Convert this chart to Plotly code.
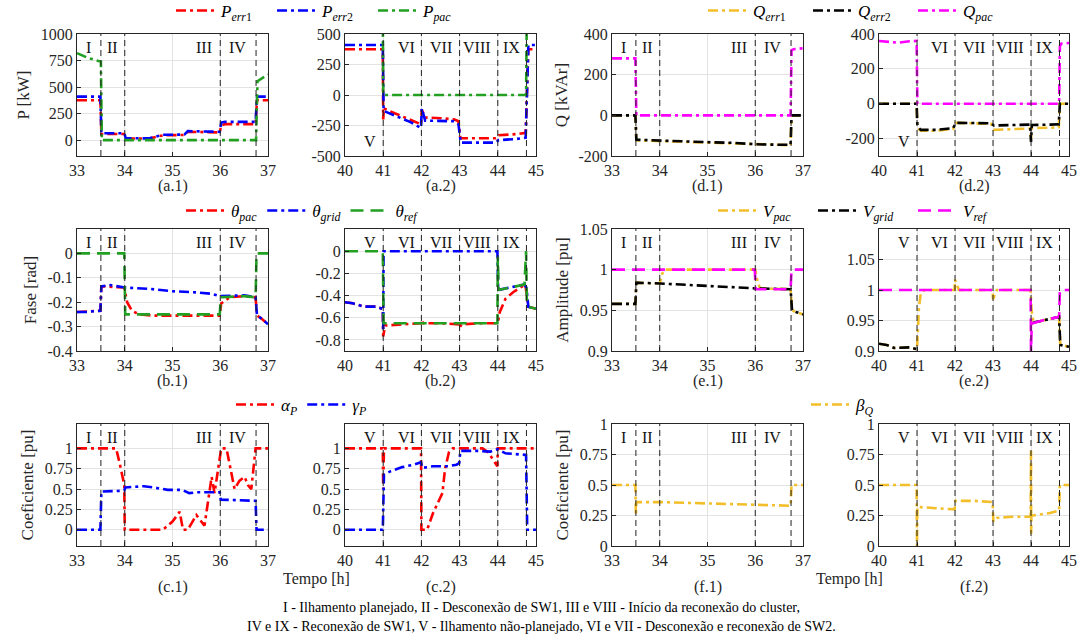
import plotly.graph_objects as go

W, H = 1083, 639
FONT = "Liberation Serif"

# ---------------- DATA ----------------
# (a.1) Active power, 33-37 h
t_a1_err1 = [33, 33.49, 33.51, 33.99, 34.02, 34.5, 34.8, 35.25, 35.32, 35.99, 36.02, 36.1, 36.74, 36.77, 37]
p_a1_err1 = [375, 375, 58, 58, 15, 14, 45, 48, 78, 72, 140, 150, 150, 375, 375]
t_a1_err2 = [33, 33.49, 33.51, 33.99, 34.02, 34.5, 34.8, 35.25, 35.32, 35.99, 36.02, 36.1, 36.74, 36.77, 37]
p_a1_err2 = [410, 410, 65, 65, 18, 16, 50, 52, 85, 78, 165, 172, 172, 410, 410]
t_a1_pac = [33, 33.2, 33.45, 33.5, 33.52, 36.75, 36.78, 36.9, 37]
p_a1_pac = [820, 780, 745, 740, 0, 0, 555, 590, 618]

# (a.2) Active power, 40-45 h
t_a2_err1 = [40, 40.99, 41.0, 41.02, 41.3, 41.7, 41.99, 42.01, 42.1, 42.5, 42.85, 42.97, 43.02, 43.95, 44.02, 44.5, 44.73, 44.8, 45]
p_a2_err1 = [375, 375, -200, -110, -150, -200, -240, -120, -185, -190, -200, -215, -355, -355, -330, -320, -310, 375, 375]
t_a2_err2 = [40, 40.99, 41.01, 41.3, 41.7, 41.99, 42.01, 42.1, 42.5, 42.85, 42.97, 43.03, 43.95, 44.02, 44.5, 44.73, 44.8, 45]
p_a2_err2 = [410, 410, -130, -170, -220, -270, -110, -210, -215, -215, -240, -390, -390, -370, -360, -350, 410, 410]
t_a2_pac = [40, 40.99, 41.0, 44.74, 44.76, 45]
p_a2_pac = [650, 650, 0, 0, 650, 650]

# (d.1) Reactive power, 33-37 h
t_d1_err1 = [33, 33.49, 33.51, 34, 35, 35.5, 36, 36.5, 36.74, 36.76, 37]
q_d1_err1 = [0, 0, -123, -127, -134, -137, -144, -147, -147, 0, 0]
t_d1_err2 = [33, 33.49, 33.51, 34, 35, 35.5, 36, 36.5, 36.74, 36.76, 37]
q_d1_err2 = [0, 0, -120, -125, -132, -135, -142, -145, -145, 0, 0]
t_d1_pac = [33, 33.49, 33.51, 36.74, 36.76, 36.8, 37]
q_d1_pac = [280, 280, 0, 0, 320, 325, 330]

# (d.2) Reactive power, 40-45 h
t_d2_err = [40, 40.99, 41.01, 41.1, 41.5, 41.95, 42.02, 42.5, 42.95, 43.02, 43.5, 43.98, 44.0, 44.02, 44.5, 44.73, 44.76, 45]
q_d2_err1 = [0, 0, -140, -155, -155, -145, -110, -112, -115, -150, -145, -142, -200, -140, -138, -135, 0, 0]
q_d2_err2 = [0, 0, -130, -150, -150, -140, -110, -112, -112, -125, -122, -120, -220, -122, -120, -118, 0, 0]
t_d2_pac = [40, 40.3, 40.5, 40.8, 40.99, 41.01, 44.74, 44.76, 44.8, 45]
q_d2_pac = [360, 355, 350, 358, 360, 0, 0, 330, 345, 348]

# (b.1) Phase, 33-37 h
t_b1_pac = [33, 33.49, 33.51, 33.99, 34.05, 34.15, 34.3, 34.6, 35, 35.5, 35.99, 36.02, 36.2, 36.5, 36.74, 36.77, 36.85, 37]
th_b1_pac = [-0.24, -0.235, -0.135, -0.14, -0.2, -0.235, -0.25, -0.255, -0.255, -0.255, -0.255, -0.205, -0.18, -0.175, -0.18, -0.255, -0.265, -0.29]
t_b1_grid = [33, 33.2, 33.49, 33.51, 33.7, 34, 34.5, 35, 35.5, 35.8, 36, 36.5, 36.74, 36.77, 36.85, 37]
th_b1_grid = [-0.24, -0.24, -0.235, -0.135, -0.13, -0.14, -0.145, -0.155, -0.16, -0.165, -0.175, -0.172, -0.18, -0.255, -0.265, -0.29]
t_b1_ref = [33, 33.99, 34.01, 35.99, 36.01, 36.5, 36.74, 36.76, 37]
th_b1_ref = [0, 0, -0.25, -0.25, -0.18, -0.175, -0.18, 0, 0]

# (b.2) Phase, 40-45 h
t_b2_pac = [40, 40.2, 40.5, 40.8, 40.99, 41.0, 41.05, 41.5, 41.99, 42.0, 42.05, 42.5, 42.99, 43.0, 43.05, 43.5, 44.0, 44.05, 44.2, 44.4, 44.6, 44.72, 44.8, 45]
th_b2_pac = [-0.46, -0.47, -0.5, -0.5, -0.52, -0.77, -0.67, -0.66, -0.65, -0.62, -0.65, -0.65, -0.66, -0.69, -0.66, -0.65, -0.65, -0.55, -0.43, -0.37, -0.33, -0.3, -0.5, -0.52]
t_b2_grid = [40, 40.2, 40.5, 40.8, 40.99, 41.0, 41.01, 43.99, 44.01, 44.3, 44.7, 44.75, 44.8, 45]
th_b2_grid = [-0.46, -0.47, -0.5, -0.5, -0.52, -0.72, 0, 0, -0.35, -0.33, -0.3, -0.33, -0.5, -0.52]
t_b2_ref = [40, 40.99, 41.01, 43.99, 44.0, 44.02, 44.3, 44.7, 44.74, 44.76, 44.8, 45]
th_b2_ref = [0, 0, -0.65, -0.65, -0.05, -0.35, -0.33, -0.3, 0, -0.45, -0.5, -0.52]

# (e.1) Amplitude, 33-37 h
t_e1_pac = [33, 33.49, 33.51, 34.0, 34.05, 34.1, 36.0, 36.05, 36.1, 36.74, 36.77, 36.85, 37]
v_e1_pac = [0.958, 0.958, 0.984, 0.983, 0.995, 1, 1, 0.985, 0.977, 0.976, 0.95, 0.948, 0.945]
t_e1_grid = [33, 33.49, 33.51, 34, 35, 36, 36.74, 36.77, 36.85, 37]
v_e1_grid = [0.958, 0.958, 0.984, 0.983, 0.98, 0.977, 0.976, 0.95, 0.948, 0.945]
t_e1_ref = [33, 35.99, 36.01, 36.74, 36.76, 37]
v_e1_ref = [1, 1, 0.976, 0.976, 1, 1]

# (e.2) Amplitude, 40-45 h
t_e2_pac = [40, 40.2, 40.4, 40.6, 40.8, 41.0, 41.05, 41.1, 41.2, 41.99, 42.0, 42.1, 42.99, 43.0, 43.1, 43.99, 44.01, 44.05, 44.1, 44.74, 44.77, 45]
v_e2_pac = [0.912, 0.91, 0.905, 0.906, 0.906, 0.903, 0.97, 0.995, 1.0, 1.0, 1.017, 1.0, 1.0, 0.985, 1.0, 1.0, 0.97, 0.952, 0.947, 0.956, 0.91, 0.907]
t_e2_grid = [40, 40.2, 40.4, 40.6, 40.8, 41.0, None, 44.01, 44.1, 44.74, 44.77, 45]
v_e2_grid = [0.912, 0.91, 0.905, 0.906, 0.906, 0.903, None, 0.945, 0.947, 0.956, 0.91, 0.907]
t_e2_ref = [40, 43.99, 44.0, 44.02, 44.3, 44.74, 44.76, 45]
v_e2_ref = [1, 1, 0.9, 0.945, 0.95, 0.956, 1, 1]

# (c.1) Coefficients, 33-37 h
t_c1_alpha = [33, 33.82, 33.9, 33.99, 34.0, 34.8, 35.0, 35.15, 35.22, 35.32, 35.5, 35.6, 35.67, 35.82, 35.88, 36.02, 36.13, 36.3, 36.4, 36.51, 36.58, 36.65, 36.74, 37]
a_c1_alpha = [1, 1, 0.8, 0.55, 0, 0, 0.1, 0.22, 0, 0, 0.18, 0.1, 0.05, 0.65, 0.45, 1, 1, 0.5, 0.6, 0.65, 0.55, 0.5, 1, 1]
t_c1_gamma = [33, 33.49, 33.51, 33.99, 34.01, 34.4, 34.6, 34.9, 35.2, 35.35, 35.5, 35.99, 36.01, 36.74, 36.76, 37]
g_c1_gamma = [0, 0, 0.47, 0.48, 0.52, 0.535, 0.52, 0.49, 0.49, 0.45, 0.46, 0.46, 0.37, 0.355, 0, 0]

# (c.2) Coefficients, 40-45 h
t_c2_alpha = [40, 40.99, 41.0, 41.02, 41.99, 42.0, 42.15, 42.3, 42.45, 42.55, 42.62, 42.72, 42.82, 43.6, 43.75, 43.95, 43.99, 44.0, 45]
a_c2_alpha = [1, 1, 0.5, 1, 1, 0, 0, 0.2, 0.35, 0.45, 0.75, 0.95, 1, 1, 0.95, 0.8, 0.78, 1, 1]
t_c2_gamma = [40, 40.99, 41.02, 41.2, 41.5, 41.8, 41.99, 42.02, 42.3, 42.7, 42.92, 42.99, 43.02, 43.5, 43.8, 44.0, 44.2, 44.6, 44.74, 44.77, 45]
g_c2_gamma = [0, 0, 0.68, 0.72, 0.77, 0.8, 0.83, 0.76, 0.78, 0.78, 0.8, 0.82, 0.97, 0.97, 0.96, 0.99, 0.94, 0.93, 0.92, 0, 0]

# (f.1) beta_Q, 33-37 h
t_f1_beta = [33, 33.49, 33.5, 33.51, 34, 35, 36, 36.5, 36.74, 36.76, 37]
b_f1_beta = [0.5, 0.5, 0.25, 0.36, 0.36, 0.35, 0.335, 0.33, 0.33, 0.5, 0.5]

# (f.2) beta_Q, 40-45 h
t_f2_beta = [40, 40.99, 41.0, 41.01, 41.5, 41.99, 42.01, 42.5, 42.99, 43.01, 43.1, 43.5, 43.99, 44.0, 44.005, 44.01, 44.05, 44.5, 44.74, 44.76, 45]
b_f2_beta = [0.5, 0.5, 0, 0.32, 0.31, 0.3, 0.37, 0.37, 0.36, 0.2, 0.23, 0.24, 0.24, 0.78, 0.1, 0.25, 0.25, 0.27, 0.29, 0.5, 0.5]

# events and region labels
events_left = [33.5, 34, 36, 36.75]
events_right = [41, 42, 43, 44, 44.75]
regions_left = ["I", "II", "III", "IV"]
regions_left_x = [33.25, 33.75, 35.65, 36.37]
regions_right = ["V", "VI", "VII", "VIII", "IX"]
regions_right_x = [40.65, 41.6, 42.5, 43.45, 44.35]

x_left_ticks = [33, 34, 35, 36, 37]
x_right_ticks = [40, 41, 42, 43, 44, 45]

y_ticks = {
    "a1": ([0, 250, 500, 750, 1000], ["0", "250", "500", "750", "1000"], [-150, 1000]),
    "a2": ([-500, -250, 0, 250, 500], ["-500", "-250", "0", "250", "500"], [-500, 500]),
    "d1": ([-200, 0, 200, 400], ["-200", "0", "200", "400"], [-200, 400]),
    "d2": ([-200, 0, 200, 400], ["-200", "0", "200", "400"], [-300, 400]),
    "b1": ([-0.4, -0.3, -0.2, -0.1, 0], ["-0.4", "-0.3", "-0.2", "-0.1", "0"], [-0.4, 0.1]),
    "b2": ([-0.8, -0.6, -0.4, -0.2, 0], ["-0.8", "-0.6", "-0.4", "-0.2", "0"], [-0.9, 0.2]),
    "e1": ([0.9, 0.95, 1, 1.05], ["0.9", "0.95", "1", "1.05"], [0.9, 1.05]),
    "e2": ([0.9, 0.95, 1, 1.05], ["0.9", "0.95", "1", "1.05"], [0.9, 1.1]),
    "c1": ([0, 0.25, 0.5, 0.75, 1], ["0", "0.25", "0.5", "0.75", "1"], [-0.2, 1.3]),
    "c2": ([0, 0.25, 0.5, 0.75, 1], ["0", "0.25", "0.5", "0.75", "1"], [-0.2, 1.3]),
    "f1": ([0, 0.25, 0.5, 0.75, 1], ["0", "0.25", "0.5", "0.75", "1"], [0, 1]),
    "f2": ([0, 0.25, 0.5, 0.75, 1], ["0", "0.25", "0.5", "0.75", "1"], [0, 1]),
}

panel_keys = [["a1", "a2", "d1", "d2"], ["b1", "b2", "e1", "e2"], ["c1", "c2", "f1", "f2"]]
panel_names = {"a1": "(a.1)", "a2": "(a.2)", "d1": "(d.1)", "d2": "(d.2)",
               "b1": "(b.1)", "b2": "(b.2)", "e1": "(e.1)", "e2": "(e.2)",
               "c1": "(c.1)", "c2": "(c.2)", "f1": "(f.1)", "f2": "(f.2)"}
y_titles = {"a1": "P [kW]", "d1": "Q [kVAr]", "b1": "Fase [rad]",
            "e1": "Amplitude [pu]", "c1": "Coeficiente [pu]", "f1": "Coeficiente [pu]"}

# ---------------- STYLE ----------------
RED, BLUE, GREEN = "#ff0000", "#0000ff", "#22a022"
YEL, BLK, MAG = "#f2bf2a", "#000000", "#ff00ff"
DASHDOT = "10px,4px,3px,4px"
REFDASH = "13px,7px"
LW = 2.6
AX = "#262626"
GRID = "#e3e3e3"

cols_px = [(77, 268), (345, 536), (612, 803), (879, 1069)]
rows_px = [(34, 156), (229, 351), (424, 546)]

fig = go.Figure()

series = [
    ("a1", t_a1_err1, p_a1_err1, "<i>P</i><sub><i>err</i>1</sub>", RED, DASHDOT, "legend", True),
    ("a1", t_a1_err2, p_a1_err2, "<i>P</i><sub><i>err</i>2</sub>", BLUE, DASHDOT, "legend", True),
    ("a1", t_a1_pac, p_a1_pac, "<i>P</i><sub><i>pac</i></sub>", GREEN, DASHDOT, "legend", True),
    ("a2", t_a2_err1, p_a2_err1, "Perr1", RED, DASHDOT, "legend", False),
    ("a2", t_a2_err2, p_a2_err2, "Perr2", BLUE, DASHDOT, "legend", False),
    ("a2", t_a2_pac, p_a2_pac, "Ppac", GREEN, DASHDOT, "legend", False),
    ("d1", t_d1_err1, q_d1_err1, "<i>Q</i><sub><i>err</i>1</sub>", YEL, DASHDOT, "legend2", True),
    ("d1", t_d1_err2, q_d1_err2, "<i>Q</i><sub><i>err</i>2</sub>", BLK, DASHDOT, "legend2", True),
    ("d1", t_d1_pac, q_d1_pac, "<i>Q</i><sub><i>pac</i></sub>", MAG, DASHDOT, "legend2", True),
    ("d2", t_d2_err, q_d2_err1, "Qerr1", YEL, DASHDOT, "legend2", False),
    ("d2", t_d2_err, q_d2_err2, "Qerr2", BLK, DASHDOT, "legend2", False),
    ("d2", t_d2_pac, q_d2_pac, "Qpac", MAG, DASHDOT, "legend2", False),
    ("b1", t_b1_pac, th_b1_pac, "<i>θ<sub>pac</sub></i>", RED, DASHDOT, "legend3", True),
    ("b1", t_b1_grid, th_b1_grid, "<i>θ<sub>grid</sub></i>", BLUE, DASHDOT, "legend3", True),
    ("b1", t_b1_ref, th_b1_ref, "<i>θ<sub>ref</sub></i>", GREEN, REFDASH, "legend3", True),
    ("b2", t_b2_pac, th_b2_pac, "thpac", RED, DASHDOT, "legend3", False),
    ("b2", t_b2_grid, th_b2_grid, "thgrid", BLUE, DASHDOT, "legend3", False),
    ("b2", t_b2_ref, th_b2_ref, "thref", GREEN, REFDASH, "legend3", False),
    ("e1", t_e1_pac, v_e1_pac, "<i>V<sub>pac</sub></i>", YEL, DASHDOT, "legend4", True),
    ("e1", t_e1_grid, v_e1_grid, "<i>V<sub>grid</sub></i>", BLK, DASHDOT, "legend4", True),
    ("e1", t_e1_ref, v_e1_ref, "<i>V<sub>ref</sub></i>", MAG, REFDASH, "legend4", True),
    ("e2", t_e2_pac, v_e2_pac, "Vpac", YEL, DASHDOT, "legend4", False),
    ("e2", t_e2_grid, v_e2_grid, "Vgrid", BLK, DASHDOT, "legend4", False),
    ("e2", t_e2_ref, v_e2_ref, "Vref", MAG, REFDASH, "legend4", False),
    ("c1", t_c1_alpha, a_c1_alpha, "<i>α<sub>P</sub></i>", RED, DASHDOT, "legend5", True),
    ("c1", t_c1_gamma, g_c1_gamma, "<i>γ<sub>P</sub></i>", BLUE, DASHDOT, "legend5", True),
    ("c2", t_c2_alpha, a_c2_alpha, "aP", RED, DASHDOT, "legend5", False),
    ("c2", t_c2_gamma, g_c2_gamma, "gP", BLUE, DASHDOT, "legend5", False),
    ("f1", t_f1_beta, b_f1_beta, "<i>β<sub>Q</sub></i>", YEL, DASHDOT, "legend6", True),
    ("f2", t_f2_beta, b_f2_beta, "bQ", YEL, DASHDOT, "legend6", False),
]

axis_index = {}
for r, row in enumerate(panel_keys):
    for c, key in enumerate(row):
        axis_index[key] = r * 4 + c + 1

for key, xs, ys, name, color, dash, leg, show in series:
    i = axis_index[key]
    fig.add_trace(go.Scatter(
        x=xs, y=ys, mode="lines", name=name, showlegend=show, legend=leg,
        line=dict(color=color, width=LW, dash=dash),
        xaxis="x" if i == 1 else f"x{i}", yaxis="y" if i == 1 else f"y{i}",
        connectgaps=False, hoverinfo="skip"))

layout = dict(
    width=W, height=H, margin=dict(l=0, r=0, t=0, b=0, autoexpand=False),
    paper_bgcolor="white", plot_bgcolor="white",
    font=dict(family=FONT, size=16, color="#000"),
    showlegend=True,
)

annotations = []
shapes = []
tickfont = dict(family=FONT, size=16, color=AX)

for r, row in enumerate(panel_keys):
    y0p, y1p = rows_px[r]
    for c, key in enumerate(row):
        i = axis_index[key]
        x0p, x1p = cols_px[c]
        left = (c % 2 == 0)
        xs = "" if i == 1 else str(i)
        tv, tt, yr = y_ticks[key]
        layout[f"xaxis{xs}"] = dict(
            domain=[x0p / W, x1p / W], anchor=f"y{xs}",
            range=[33, 37] if left else [40, 45],
            tickvals=x_left_ticks if left else x_right_ticks,
            ticktext=[str(v) for v in (x_left_ticks if left else x_right_ticks)],
            showgrid=True, gridcolor=GRID, gridwidth=1, zeroline=False,
            showline=True, linecolor=AX, linewidth=1, mirror=True,
            ticks="inside", ticklen=4, tickcolor=AX, tickfont=tickfont)
        layout[f"yaxis{xs}"] = dict(
            domain=[1 - y1p / H, 1 - y0p / H], anchor=f"x{xs}",
            range=yr, tickvals=tv, ticktext=tt,
            showgrid=True, gridcolor=GRID, gridwidth=1, zeroline=False,
            showline=True, linecolor=AX, linewidth=1, mirror=True,
            ticks="inside", ticklen=4, tickcolor=AX, tickfont=tickfont)
        if key in y_titles:
            layout[f"yaxis{xs}"]["title"] = dict(text=y_titles[key], font=dict(family=FONT, size=17, color=AX), standoff=6)
        evs = events_left if left else events_right
        for ev in evs:
            shapes.append(dict(type="line", xref=f"x{xs}", yref=f"y{xs} domain",
                               x0=ev, x1=ev, y0=0, y1=1,
                               line=dict(color="#222", width=1, dash="6px,4px"), layer="above"))
        labs = regions_left if left else regions_right
        labx = regions_left_x if left else regions_right_x
        for lab, lx in zip(labs, labx):
            yy = 0.89
            if lab == "V" and key in ("a2", "d2"):
                yy = 0.12
            annotations.append(dict(text=lab, x=lx, y=yy, xref=f"x{xs}", yref=f"y{xs} domain",
                                    showarrow=False, font=dict(family=FONT, size=16, color="#111"),
                                    xanchor="center", yanchor="middle"))
        label_y = {0: 186, 1: 381, 2: 587}[r]
        annotations.append(dict(text=panel_names[key], x=(x0p + x1p) / 2 / W, y=1 - label_y / H,
                                xref="paper", yref="paper", showarrow=False,
                                font=dict(family=FONT, size=16, color=AX),
                                xanchor="center", yanchor="middle"))

for tx in (316, 850):
    annotations.append(dict(text="Tempo [h]", x=tx / W, y=1 - 579 / H, xref="paper", yref="paper",
                            showarrow=False, font=dict(family=FONT, size=16, color=AX),
                            xanchor="center", yanchor="middle"))

caption1 = "I - Ilhamento planejado, II - Desconexão de SW1, III e VIII - Início da reconexão do cluster,"
caption2 = "IV e IX - Reconexão de SW1, V - Ilhamento não-planejado, VI e VII - Desconexão e reconexão de SW2."
annotations.append(dict(text=caption1, x=541 / W, y=1 - 607 / H, xref="paper", yref="paper", showarrow=False,
                        font=dict(family=FONT, size=14, color="#000"), xanchor="center", yanchor="middle"))
annotations.append(dict(text=caption2, x=541 / W, y=1 - 626 / H, xref="paper", yref="paper", showarrow=False,
                        font=dict(family=FONT, size=14, color="#000"), xanchor="center", yanchor="middle"))

# legend: (left px of first entry, centre y px, entry text width px or 0 for auto)
legend_pos = {"legend": (171, 11, 46), "legend2": (703, 11, 50), "legend3": (181, 211, 0),
              "legend4": (713, 211, 45), "legend5": (231, 405, 0), "legend6": (806, 405, 0)}
for lg, (lx, ly, ew) in legend_pos.items():
    cfg = dict(orientation="h", x=lx / W, y=1 - ly / H, xanchor="left", yanchor="middle",
               bgcolor="rgba(0,0,0,0)", font=dict(family=FONT, size=17, color="#000"),
               itemwidth=40, traceorder="normal")
    if ew:
        cfg["entrywidth"] = ew
        cfg["entrywidthmode"] = "pixels"
    layout[lg] = cfg

layout["annotations"] = annotations
layout["shapes"] = shapes
fig.update_layout(**layout)
fig.write_html("out.html", config={"displayModeBar": False})

# remove default page margin so the figure sits at the window's top-left corner
with open("out.html", "r", encoding="utf-8") as fh:
    html = fh.read()
html = html.replace("<head>", "<head><style>html,body{margin:0;padding:0;}</style>", 1)
with open("out.html", "w", encoding="utf-8") as fh:
    fh.write(html)
